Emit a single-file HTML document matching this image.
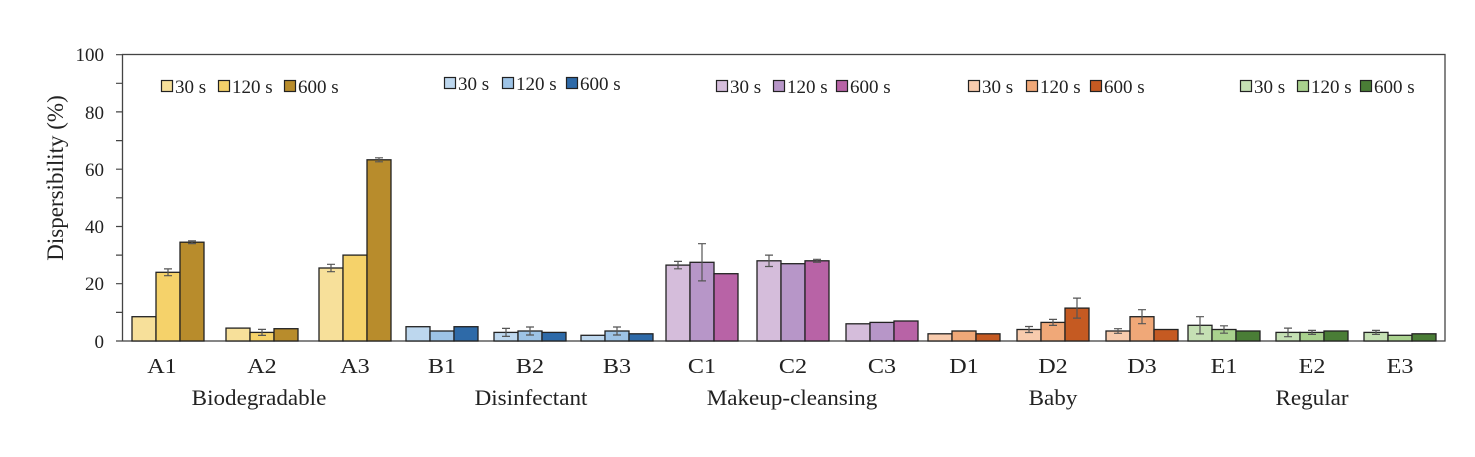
<!DOCTYPE html>
<html><head><meta charset="utf-8"><style>
body{margin:0;background:#fff;}
text{font-family:"Liberation Serif",serif;fill:#222;}
</style></head><body>
<svg width="1475" height="452" viewBox="0 0 1475 452" xmlns="http://www.w3.org/2000/svg">
<rect x="122.5" y="54.5" width="1322.5" height="286.5" fill="none" stroke="#444" stroke-width="1.3"/>
<g stroke="#444" stroke-width="1.2">
<path d="M116,341H122M116,312.4H122M116,283.7H122M116,255.1H122M116,226.5H122M116,197.8H122M116,169.2H122M116,140.6H122M116,111.9H122M116,83.3H122M116,54.7H122"/>
</g>
<g font-size="19" text-anchor="end">
<text x="104" y="348">0</text><text x="104" y="290">20</text><text x="104" y="233">40</text><text x="104" y="176">60</text><text x="104" y="119">80</text><text x="104" y="61">100</text>
</g>
<text transform="translate(63,178) rotate(-90)" font-size="23" text-anchor="middle">Dispersibility (%)</text>
<g stroke="#222" stroke-width="1.3">
<g fill="#f7e09a"><rect x="132" y="316.7" width="24" height="24.3"/><rect x="226" y="328.1" width="24" height="12.9"/><rect x="319" y="268" width="24" height="73"/></g>
<g fill="#f5d26a"><rect x="156" y="272.3" width="24" height="68.7"/><rect x="250" y="332.4" width="24" height="8.6"/><rect x="343" y="255.1" width="24" height="85.9"/></g>
<g fill="#b88c2c"><rect x="180" y="242.2" width="24" height="98.8"/><rect x="274" y="328.7" width="24" height="12.3"/><rect x="367" y="159.8" width="24" height="181.2"/></g>
<g fill="#bdd7ee"><rect x="406" y="326.7" width="24" height="14.3"/><rect x="494" y="332.4" width="24" height="8.6"/><rect x="581" y="335.3" width="24" height="5.7"/></g>
<g fill="#9dc3e6"><rect x="430" y="331" width="24" height="10"/><rect x="518" y="331" width="24" height="10"/><rect x="605" y="331" width="24" height="10"/></g>
<g fill="#2e6aa8"><rect x="454" y="326.7" width="24" height="14.3"/><rect x="542" y="332.4" width="24" height="8.6"/><rect x="629" y="333.8" width="24" height="7.2"/></g>
<g fill="#d5bddb"><rect x="666" y="265.1" width="24" height="75.9"/><rect x="757" y="260.8" width="24" height="80.2"/><rect x="846" y="323.8" width="24" height="17.2"/></g>
<g fill="#b796c8"><rect x="690" y="262.3" width="24" height="78.7"/><rect x="781" y="263.7" width="24" height="77.3"/><rect x="870" y="322.4" width="24" height="18.6"/></g>
<g fill="#b863a6"><rect x="714" y="273.7" width="24" height="67.3"/><rect x="805" y="260.8" width="24" height="80.2"/><rect x="894" y="321" width="24" height="20"/></g>
<g fill="#f8cbad"><rect x="928" y="333.8" width="24" height="7.2"/><rect x="1017" y="329.5" width="24" height="11.5"/><rect x="1106" y="331" width="24" height="10"/></g>
<g fill="#f0a878"><rect x="952" y="331" width="24" height="10"/><rect x="1041" y="322.4" width="24" height="18.6"/><rect x="1130" y="316.7" width="24" height="24.3"/></g>
<g fill="#c55a22"><rect x="976" y="333.8" width="24" height="7.2"/><rect x="1065" y="308.1" width="24" height="32.9"/><rect x="1154" y="329.5" width="24" height="11.5"/></g>
<g fill="#c5e0b4"><rect x="1188" y="325.3" width="24" height="15.7"/><rect x="1276" y="332.4" width="24" height="8.6"/><rect x="1364" y="332.4" width="24" height="8.6"/></g>
<g fill="#a9d18e"><rect x="1212" y="329.5" width="24" height="11.5"/><rect x="1300" y="332.4" width="24" height="8.6"/><rect x="1388" y="335.3" width="24" height="5.7"/></g>
<g fill="#4a7d36"><rect x="1236" y="331" width="24" height="10"/><rect x="1324" y="331" width="24" height="10"/><rect x="1412" y="333.8" width="24" height="7.2"/></g>
</g>
<path stroke="#555" stroke-width="1.2" fill="none" d="
M168,268.9V275.7M164,268.9h8M164,275.7h8
M192,240.8V243.6M188,240.8h8M188,243.6h8
M331,264.3V271.7M327,264.3h8M327,271.7h8
M379,157.8V161.8M375,157.8h8M375,161.8h8
M262,329.4V335.4M258,329.4h8M258,335.4h8
M506,328.4V336.4M502,328.4h8M502,336.4h8
M530,327V335M526,327h8M526,335h8
M617,327V335M613,327h8M613,335h8
M678,261.4V268.8M674,261.4h8M674,268.8h8
M702,243.7V280.9M698,243.7h8M698,280.9h8
M769,255.1V266.5M765,255.1h8M765,266.5h8
M817,259.3V262.3M813,259.3h8M813,262.3h8
M1029,326.5V332.5M1025,326.5h8M1025,332.5h8
M1053,319.4V325.4M1049,319.4h8M1049,325.4h8
M1077,298.1V318.1M1073,298.1h8M1073,318.1h8
M1118,328.7V333.3M1114,328.7h8M1114,333.3h8
M1142,309.7V323.7M1138,309.7h8M1138,323.7h8
M1200,316.7V333.9M1196,316.7h8M1196,333.9h8
M1224,325.8V333.2M1220,325.8h8M1220,333.2h8
M1288,328.1V336.7M1284,328.1h8M1284,336.7h8
M1312,330.4V334.4M1308,330.4h8M1308,334.4h8
M1376,330.4V334.4M1372,330.4h8M1372,334.4h8"/>
<g font-size="21" text-anchor="middle">
<text transform="translate(162,373) scale(1.15,1)">A1</text>
<text transform="translate(262,373) scale(1.15,1)">A2</text>
<text transform="translate(355,373) scale(1.15,1)">A3</text>
<text transform="translate(442,373) scale(1.15,1)">B1</text>
<text transform="translate(530,373) scale(1.15,1)">B2</text>
<text transform="translate(617,373) scale(1.15,1)">B3</text>
<text transform="translate(702,373) scale(1.15,1)">C1</text>
<text transform="translate(793,373) scale(1.15,1)">C2</text>
<text transform="translate(882,373) scale(1.15,1)">C3</text>
<text transform="translate(964,373) scale(1.15,1)">D1</text>
<text transform="translate(1053,373) scale(1.15,1)">D2</text>
<text transform="translate(1142,373) scale(1.15,1)">D3</text>
<text transform="translate(1224,373) scale(1.15,1)">E1</text>
<text transform="translate(1312,373) scale(1.15,1)">E2</text>
<text transform="translate(1400,373) scale(1.15,1)">E3</text>
</g>
<g font-size="22" text-anchor="middle">
<text transform="translate(259,405) scale(1.05,1)">Biodegradable</text>
<text transform="translate(531,405) scale(1.05,1)">Disinfectant</text>
<text transform="translate(792,405) scale(1.05,1)">Makeup-cleansing</text>
<text transform="translate(1053,405) scale(1.05,1)">Baby</text>
<text transform="translate(1312,405) scale(1.05,1)">Regular</text>
</g>
<g stroke="#222" stroke-width="1.2">
<rect x="161.5" y="80.5" width="11" height="11" fill="#f7e09a"/><rect x="218.5" y="80.5" width="11" height="11" fill="#f5d26a"/><rect x="284.5" y="80.5" width="11" height="11" fill="#b88c2c"/>
<rect x="444.5" y="77.5" width="11" height="11" fill="#bdd7ee"/><rect x="502.5" y="77.5" width="11" height="11" fill="#9dc3e6"/><rect x="566.5" y="77.5" width="11" height="11" fill="#2e6aa8"/>
<rect x="716.5" y="80.5" width="11" height="11" fill="#d5bddb"/><rect x="773.5" y="80.5" width="11" height="11" fill="#b796c8"/><rect x="836.5" y="80.5" width="11" height="11" fill="#b863a6"/>
<rect x="968.5" y="80.5" width="11" height="11" fill="#f8cbad"/><rect x="1026.5" y="80.5" width="11" height="11" fill="#f0a878"/><rect x="1090.5" y="80.5" width="11" height="11" fill="#c55a22"/>
<rect x="1240.5" y="80.5" width="11" height="11" fill="#c5e0b4"/><rect x="1297.5" y="80.5" width="11" height="11" fill="#a9d18e"/><rect x="1360.5" y="80.5" width="11" height="11" fill="#4a7d36"/>
</g>
<g font-size="19">
<text x="175" y="93">30 s</text><text x="232" y="93">120 s</text><text x="298" y="93">600 s</text>
<text x="458" y="90">30 s</text><text x="516" y="90">120 s</text><text x="580" y="90">600 s</text>
<text x="730" y="93">30 s</text><text x="787" y="93">120 s</text><text x="850" y="93">600 s</text>
<text x="982" y="93">30 s</text><text x="1040" y="93">120 s</text><text x="1104" y="93">600 s</text>
<text x="1254" y="93">30 s</text><text x="1311" y="93">120 s</text><text x="1374" y="93">600 s</text>
</g>
</svg>
</body></html>
